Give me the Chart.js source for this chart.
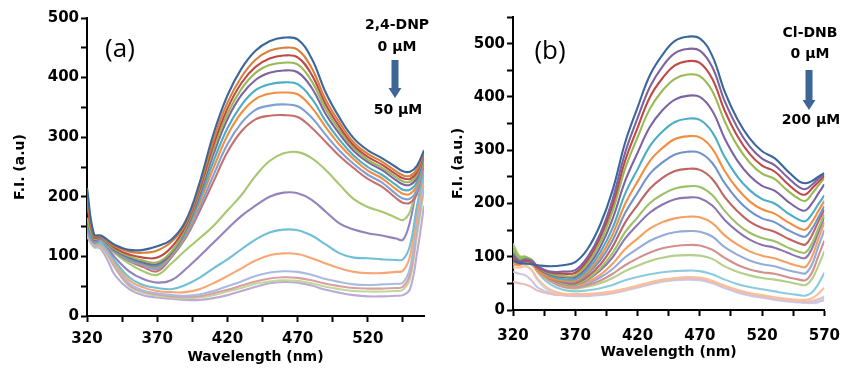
<!DOCTYPE html>
<html><head><meta charset="utf-8">
<script src="https://cdn.jsdelivr.net/npm/chart.js@4.4.1/dist/chart.umd.min.js"></script>
<style>
html,body{margin:0;padding:0;background:#fff;}
#wrap{position:relative;width:851px;height:370px;overflow:hidden;background:#fff;}
canvas{position:absolute;top:0;}
</style></head><body>
<div id="wrap">
<canvas id="ca" width="430" height="370" style="left:0px"></canvas>
<canvas id="cb" width="421" height="370" style="left:430px"></canvas>
</div>
<script>
// ---------- Panel (a): 2,4-DNP titration ----------
const wlA = [320,325,330,335,340,350,360,370,380,390,400,410,420,430,440,450,460,470,480,490,500,510,520,530,540,545,550,555,560];
const a1  = [215,137,135,127,119,111,111,117,128,158,222,305,370,415,445,461,467,464,432,375,332,298,278,265,250,243,242,252,278];
const a2  = [200,135,134,125,117,108,106,110,124,154,216,295,358,401,430,445,450,447,416,363,324,291,272,259,243,236,235,246,276];
const a3  = [185,132,133,124,114,103,98,98,115,150,211,287,348,391,418,432,437,434,405,355,317,286,267,254,238,231,230,241,274];
const a4  = [165,130,132,122,112,100,93,90,108,146,207,279,339,381,408,421,425,422,394,347,311,282,262,249,233,226,225,237,273];
const a5  = [160,128,131,121,110,98,90,87,106,144,202,271,330,371,396,408,412,409,383,339,305,277,258,245,228,221,220,232,271];
const a6  = [150,127,130,120,109,96,88,84,104,140,195,259,315,354,379,389,392,389,365,327,295,269,250,237,220,212,212,225,269];
const a7  = [155,128,131,121,109,95,87,82,102,137,189,248,303,341,364,373,375,372,350,317,287,263,244,231,213,205,205,219,267];
const a8  = [145,126,130,120,108,93,85,79,100,133,181,236,288,324,346,353,355,352,333,304,277,255,237,224,205,197,197,211,264];
const a9  = [148,125,129,119,107,92,82,75,98,130,175,225,275,310,330,336,337,334,316,292,268,248,230,217,198,190,190,205,262];
const a10 = [150,126,128,118,105,88,75,69,88,110,130,151,177,203,235,260,273,275,265,245,220,196,183,175,165,161,175,220,258];
const a11 = [145,124,126,114,98,75,62,56,60,78,100,123,146,168,185,200,207,206,195,175,155,145,139,135,130,128,158,215,250];
const a12 = [140,122,122,110,92,65,52,47,45,52,64,80,95,112,128,140,145,144,135,120,105,98,97,95,94,95,118,185,242];
const a13 = [138,120,120,108,88,60,48,42,40,40,45,55,67,80,93,102,105,104,97,88,80,74,72,72,74,76,100,170,236];
const a14 = [136,118,118,105,85,55,43,38,35,34,36,42,50,58,67,73,75,74,69,62,57,53,52,53,54,56,80,155,226];
const a15 = [135,117,117,103,82,52,41,36,33,32,33,38,44,51,58,63,65,64,60,54,50,47,46,46,47,49,70,145,220];
const a16 = [134,115,115,100,80,50,39,34,31,30,31,35,41,47,54,58,60,59,55,49,45,42,41,41,42,44,62,135,212];
const a17 = [145,118,112,92,68,45,35,31,29,27,27,30,35,42,49,55,57,56,51,44,39,35,33,33,34,35,45,105,185];
const colorsA = ['#3C679A','#D9803C','#BE4B48','#98B954','#7E63A1','#4BACC6','#F38D3F','#7FA0D5','#C6706E',
                 '#A7C771','#9482BC','#6FBFD6','#F8A774','#A8BCE3','#D9A09F','#C0D89C','#BBAAD6'];
const xTicksA = [320,345,370,395,420,445,470,495,520,545];
const yTicksA = [0,50,100,150,200,250,300,350,400,450,500];

// ---------- Panel (b): Cl-DNB titration ----------
const wlB = [320,325,330,335,340,350,360,370,380,390,400,410,420,430,440,450,460,470,480,490,500,510,520,530,540,550,555,560,565,570];
const b1  = [92,88,87,86,84,82,84,90,115,160,225,314,380,441,479,505,513,510,477,410,359,322,298,285,262,241,238,242,250,257];
const b2  = [105,92,95,92,82,72,72,75,100,143,208,295,360,419,457,482,490,487,456,392,343,307,284,272,250,230,227,235,246,255];
const b3  = [100,90,93,90,80,70,68,70,94,136,197,280,342,400,435,459,467,464,434,374,327,293,271,260,238,219,217,228,240,252];
const b4  = [115,97,98,94,80,68,64,65,88,127,186,265,324,378,412,434,442,439,411,354,309,277,256,246,225,208,205,218,233,248];
const b5  = [98,90,92,90,78,66,62,62,82,118,171,242,295,344,375,395,402,400,374,322,281,252,233,224,205,189,187,200,218,236];
const b6  = [110,95,98,94,80,64,58,58,76,108,154,218,264,308,335,353,359,357,334,287,251,225,208,200,183,169,167,180,198,215];
const b7  = [88,85,90,88,75,60,55,55,71,100,142,199,241,280,304,321,326,324,303,261,228,204,189,181,166,153,151,165,185,205];
const b8  = [108,95,97,92,78,62,54,53,68,93,131,182,220,256,277,292,297,295,276,238,208,186,172,165,151,140,138,152,173,195];
const b9  = [95,90,93,90,76,60,52,50,63,85,119,164,197,228,248,261,265,263,246,212,186,166,154,147,135,125,123,140,165,188];
const b10 = [120,100,100,94,78,60,50,48,59,78,107,146,174,201,217,228,232,231,216,186,162,145,135,129,118,109,108,125,152,180];
const b11 = [100,92,95,90,75,58,49,47,57,74,99,134,160,183,198,208,211,210,196,169,148,132,122,117,108,99,98,115,145,175];
const b12 = [85,85,88,85,72,56,47,45,53,66,87,114,134,153,165,172,175,174,163,140,123,110,102,97,89,82,81,100,132,165];
const b13 = [105,95,96,90,74,56,46,44,50,61,77,99,115,130,140,146,148,147,138,118,104,93,86,82,75,70,69,85,118,150];
const b14 = [90,88,90,86,72,54,44,42,47,55,68,84,97,108,116,120,122,121,113,98,85,76,71,68,62,57,56,70,100,130];
const b15 = [125,102,100,92,74,54,43,40,44,50,60,73,83,92,98,102,103,102,96,82,72,65,60,57,53,48,47,58,82,110];
const b16 = [110,98,98,90,70,48,38,35,37,41,47,56,62,67,71,73,74,73,67,57,49,43,39,35,31,28,27,33,48,70];
const b17 = [80,80,82,75,58,38,31,30,30,32,35,40,46,52,57,60,62,61,55,46,38,32,28,24,21,19,19,22,30,42];
const b18 = [53,50,48,43,36,30,28,28,28,30,33,38,44,50,55,58,60,59,53,44,36,30,26,22,19,17,16,17,20,25];
const b19 = [72,68,65,55,42,31,28,27,27,29,32,37,43,49,54,57,58,57,51,42,34,28,24,20,17,15,14,14,16,18];
const b20 = [95,88,85,75,55,34,28,26,26,28,31,36,42,48,53,56,57,56,50,41,33,27,23,19,16,14,13,13,14,22];
const colorsB = ['#3C679A','#7E63A1','#BE4B48','#98B954','#7E63A1','#4BACC6','#F38D3F','#6F93CB','#C06462','#9DC06A',
                 '#8C76B2','#F5A061','#93ACDA','#D3908E','#B4CF8A','#8CCBDD','#F9C09A','#E8BDBC','#CFC4E0','#C8D6EE'];
const xTicksB = [320,345,370,395,420,445,470,495,520,545,570];
const yTicksB = [0,50,100,150,200,250,300,350,400,450,500,550];

const FONT = 'DejaVu Sans';

function annotPlugin(cfg) {
  return {
    id: 'annot',
    afterDraw(chart) {
      const ctx = chart.ctx;
      ctx.save();
      ctx.fillStyle = '#000';
      ctx.textAlign = 'center';
      ctx.textBaseline = 'middle';
      ctx.font = '26px "Open Sans"';
      ctx.fillText(cfg.panel, cfg.panelX, cfg.panelY);
      ctx.font = 'bold 14px "' + FONT + '"';
      ctx.fillText(cfg.name, cfg.tx, cfg.nameY);
      ctx.fillText('0 µM', cfg.tx, cfg.zeroY);
      ctx.fillText(cfg.end, cfg.tx + 1, cfg.endY);
      const ax = cfg.ax, y0 = cfg.aTop, yh = cfg.aHead, y1 = cfg.aBot;
      ctx.fillStyle = '#3D6596';
      ctx.beginPath();
      ctx.moveTo(ax - 3.5, y0);
      ctx.lineTo(ax + 3.5, y0);
      ctx.lineTo(ax + 3.5, yh);
      ctx.lineTo(ax + 6.5, yh);
      ctx.lineTo(ax, y1);
      ctx.lineTo(ax - 6.5, yh);
      ctx.lineTo(ax - 3.5, yh);
      ctx.closePath();
      ctx.fill();
      ctx.restore();
    }
  };
}

function build(id, wl, series, colors, xTicks, yTicks, cfg, annot) {
  const datasets = series.map((s, i) => ({
    data: wl.map((x, j) => ({x: x, y: s[j]})),
    borderColor: colors[i],
    borderWidth: 2.1,
    pointRadius: 0,
    fill: false,
    tension: 0.4
  }));
  const tickFont = {family: FONT, weight: 'bold', size: 15};
  const titleFont = {family: FONT, weight: 'bold', size: 14};
  return new Chart(document.getElementById(id), {
    type: 'line',
    data: {datasets},
    options: {
      responsive: false, animation: false, devicePixelRatio: 1,
      layout: {padding: {left: 0, right: cfg.padRight, top: cfg.padTop, bottom: 0}},
      plugins: {legend: {display: false}, tooltip: {enabled: false}},
      scales: {
        x: {
          type: 'linear', min: cfg.xMin, max: cfg.xMax,
          afterBuildTicks: s => { s.ticks = xTicks.map(v => ({value: v})); },
          afterFit: s => { s.height = cfg.xH; },
          grid: {display: true, drawOnChartArea: false, drawTicks: true, tickLength: 6, tickWidth: 2, tickColor: '#000'},
          border: {display: true, width: 2, color: '#000'},
          ticks: {autoSkip: false, maxRotation: 0, padding: cfg.xTickPad, color: '#000', font: tickFont,
                  callback: v => ((v - 320) % 50 === 0 ? String(v) : '')},
          title: {display: true, text: 'Wavelength (nm)', color: '#000', font: titleFont, padding: {top: 0, bottom: cfg.xTitlePad}}
        },
        y: {
          type: 'linear', min: 0, max: cfg.yMax,
          afterBuildTicks: s => { s.ticks = yTicks.map(v => ({value: v})); },
          afterFit: s => { s.width = cfg.yW; },
          grid: {display: true, drawOnChartArea: false, drawTicks: true, tickLength: 6, tickWidth: 2, tickColor: '#000'},
          border: {display: true, width: 2, color: '#000'},
          ticks: {autoSkip: false, padding: 2, color: '#000', font: tickFont,
                  callback: v => (v % 100 === 0 ? String(v) : '')},
          title: {display: true, text: cfg.yTitle, color: '#000', font: titleFont, padding: {top: cfg.yTitlePad, bottom: 0}}
        }
      }
    },
    plugins: [annotPlugin(annot)]
  });
}

build('ca', wlA, [a1,a2,a3,a4,a5,a6,a7,a8,a9,a10,a11,a12,a13,a14,a15,a16,a17], colorsA, xTicksA, yTicksA,
  {xMin: 320, xMax: 560, yMax: 500, padRight: 6, padTop: 18, xH: 54, yW: 87, xTickPad: 8, xTitlePad: 4, yTitlePad: 12, yTitle: 'F.I. (a.u)'},
  {panel: '(a)', panelX: 120, panelY: 50, name: '2,4-DNP', end: '50 µM', tx: 397, nameY: 25, zeroY: 47, endY: 110,
   ax: 395, aTop: 60, aHead: 88, aBot: 98});

build('cb', wlB, [b1,b2,b3,b4,b5,b6,b7,b8,b9,b10,b11,b12,b13,b14,b15,b16,b17,b18,b19,b20], colorsB, xTicksB, yTicksB,
  {xMin: 320, xMax: 570, yMax: 550, padRight: 18, padTop: 17, xH: 60, yW: 83, xTickPad: 11, xTitlePad: 9, yTitlePad: 20, yTitle: 'F.I. (a.u.)'},
  {panel: '(b)', panelX: 120, panelY: 52, name: 'Cl-DNB', end: '200 µM', tx: 380, nameY: 33, zeroY: 54, endY: 120,
   ax: 379, aTop: 70, aHead: 100, aBot: 110});
</script>
</body></html>
